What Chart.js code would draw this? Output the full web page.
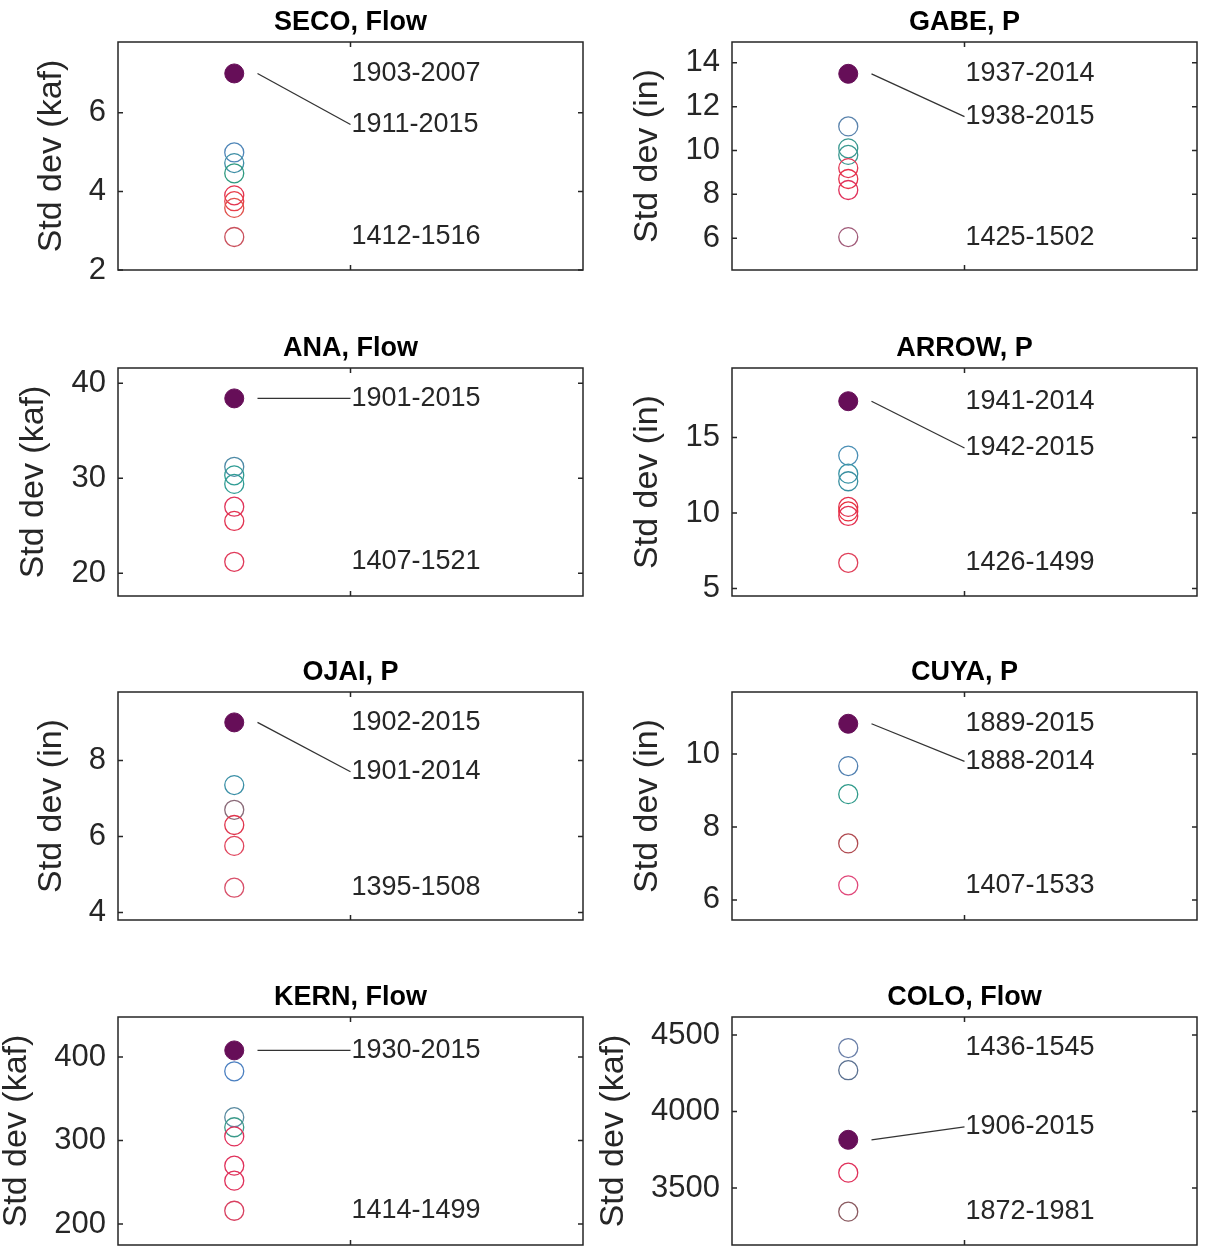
<!DOCTYPE html>
<html lang="en">
<head>
  <meta charset="UTF-8">
  <title>Std dev by window</title>
  <script src="https://cdn.jsdelivr.net/npm/chart.js"></script>
  <style>
    body {
      margin: 0;
      width: 1216px;
      height: 1246px;
      overflow: hidden;
      position: relative;
      background: #fff;
      font-family: "Liberation Sans", Arial, sans-serif;
    }
    canvas { position: absolute; }
  </style>
</head>
<body>

<script>
  // one entry per subplot, row by row (left, right)
  const panelTitles = ['SECO, Flow', 'GABE, P', 'ANA, Flow', 'ARROW, P',
                       'OJAI, P', 'CUYA, P', 'KERN, Flow', 'COLO, Flow'];
  const yTitles = ['Std dev (kaf)', 'Std dev (in)', 'Std dev (kaf)', 'Std dev (in)',
                   'Std dev (in)', 'Std dev (in)', 'Std dev (kaf)', 'Std dev (kaf)'];
  const yLimits = [[2, 7.8], [4.55, 14.95], [17.6, 41.6], [4.5, 19.6],
                   [3.8, 9.8], [5.45, 11.7], [175, 448], [3127, 4618]];
  const yTicks = [[2, 4, 6], [6, 8, 10, 12, 14], [20, 30, 40], [5, 10, 15],
                  [4, 6, 8], [6, 8, 10], [200, 300, 400], [3500, 4000, 4500]];

  // std dev of the recent instrumental window (filled marker)
  const recentStd = [7.0, 13.5, 38.4, 17.4, 9.0, 10.83, 408, 3815];

  // std dev of the other windows (open markers)
  const windowStd = [
    [4.99, 4.72, 4.46, 3.9, 3.75, 3.58, 2.84],
    [11.1, 10.1, 9.8, 9.2, 8.7, 8.2, 6.05],
    [31.2, 30.3, 29.4, 27.0, 25.5, 21.2],
    [13.8, 12.6, 12.1, 10.4, 10.1, 9.8, 6.7],
    [7.35, 6.7, 6.3, 5.75, 4.65],
    [9.67, 8.9, 7.55, 6.4],
    [383, 328, 316, 305, 270, 252, 216],
    [4415, 4270, 3600, 3345]
  ];

  // window year labels: [text, std dev] — upper, linked to filled marker, lower
  const upperLabels = [['1903-2007', 7.0], ['1937-2014', 13.5], null, ['1941-2014', 17.4],
                       ['1902-2015', 9.0], ['1889-2015', 10.83], null, ['1436-1545', 4415]];
  const linkLabels = [['1911-2015', 5.7], ['1938-2015', 11.55], ['1901-2015', 38.4], ['1942-2015', 14.3],
                      ['1901-2014', 7.7], ['1888-2014', 9.8], ['1930-2015', 408], ['1906-2015', 3900]];
  const lowerLabels = [['1412-1516', 2.84], ['1425-1502', 6.05], ['1407-1521', 21.2], ['1426-1499', 6.7],
                       ['1395-1508', 4.65], ['1407-1533', 6.4], ['1414-1499', 216], ['1872-1981', 3345]];

  // marker edge colours for the open circles
  const windowColors = [
    ['#4f86b8', '#3f8fa6', '#2f9a80', '#e3334f', '#e8404a', '#e0504a', '#c9505c'],
    ['#5b84ad', '#3a9890', '#3a9890', '#e33552', '#e6304a', '#e0305a', '#a05a78'],
    ['#4d8aa6', '#2f9c94', '#2f9c94', '#e0345a', '#e23250', '#e03a5a'],
    ['#4a8fb5', '#3a94a6', '#3a8fa0', '#e2304c', '#e8303e', '#e43050', '#e0405a'],
    ['#3a8fa6', '#8a6a78', '#e0344c', '#e0445c', '#d8506a'],
    ['#4f7fb0', '#2f9a8a', '#b04a50', '#e0487a'],
    ['#4a7fc0', '#5a8aa0', '#3a9a8a', '#e0305a', '#e0305a', '#e0305a', '#d84060'],
    ['#6a7fa8', '#5a7090', '#e0305a', '#8a5a60']
  ];
  const filledColor = '#660e58';
  const axisColor = '#262626';
  const fontFamily = '"Liberation Sans", Arial, sans-serif';

  const markerX = 0.5;   // x of the marker column
  const textX = 1.0;     // x where year labels start
  const lineStartX = 0.6;

  // draws the closed box with inward ticks, plus the year labels
  const boxAndNotes = {
    id: 'boxAndNotes',
    afterDatasetsDraw(chart, args, opts) {
      const { ctx, chartArea: a } = chart;
      const xs = chart.scales.x, ys = chart.scales.y;
      ctx.save();
      ctx.strokeStyle = axisColor;
      ctx.lineWidth = 1.5;
      ctx.strokeRect(a.left, a.top, a.right - a.left, a.bottom - a.top);

      const tl = 5;
      ctx.beginPath();
      ys.ticks.forEach(t => {
        const py = ys.getPixelForValue(t.value);
        ctx.moveTo(a.left, py); ctx.lineTo(a.left + tl, py);
        ctx.moveTo(a.right, py); ctx.lineTo(a.right - tl, py);
      });
      const px = xs.getPixelForValue(1);
      ctx.moveTo(px, a.top); ctx.lineTo(px, a.top + tl);
      ctx.moveTo(px, a.bottom); ctx.lineTo(px, a.bottom - tl);
      ctx.stroke();

      // leader line from the filled marker to its label
      const tx = xs.getPixelForValue(textX);
      ctx.lineWidth = 1.3;
      ctx.strokeStyle = '#333';
      ctx.beginPath();
      ctx.moveTo(xs.getPixelForValue(lineStartX), ys.getPixelForValue(opts.recent));
      ctx.lineTo(tx, ys.getPixelForValue(opts.link[1]));
      ctx.stroke();

      ctx.font = '27px ' + fontFamily;
      ctx.fillStyle = axisColor;
      ctx.textAlign = 'left';
      ctx.textBaseline = 'middle';
      [opts.upper, opts.link, opts.lower].forEach(n => {
        if (n) ctx.fillText(n[0], tx + 1, ys.getPixelForValue(n[1]));
      });
      ctx.restore();
    }
  };

  // canvas placement and the target plot box (page coordinates)
  const columns = [
    { canvasLeft: -60, width: 668, boxLeft: 118, boxRight: 583 },
    { canvasLeft: 560, width: 656, boxLeft: 732, boxRight: 1197 }
  ];
  const rowBoxTop = [42, 368, 692, 1017];
  const boxHeight = 228;
  const canvasHeight = 325;

  // nudge the layout padding until the plot area sits on the given box
  function alignPlotArea(chart, box) {
    const pad = chart.options.layout.padding;
    pad.right = chart.width - box.right;
    pad.bottom = chart.height - box.bottom;
    for (let k = 0; k < 2; k++) {
      const a = chart.chartArea;
      pad.left += box.left - a.left;
      pad.top += box.top - a.top;
      chart.update('none');
    }
  }

  panelTitles.forEach((title, i) => {
    const col = columns[i % 2];
    const top = rowBoxTop[Math.floor(i / 2)];
    const canvasTop = top - 42;

    const canvas = document.createElement('canvas');
    canvas.width = col.width;
    canvas.height = canvasHeight;
    canvas.style.left = col.canvasLeft + 'px';
    canvas.style.top = canvasTop + 'px';
    document.body.appendChild(canvas);

    const chart = new Chart(canvas, {
      type: 'scatter',
      data: {
        datasets: [
          {
            data: [{ x: markerX, y: recentStd[i] }],
            pointRadius: 9.5,
            pointBackgroundColor: filledColor,
            pointBorderColor: filledColor,
            pointBorderWidth: 1
          },
          {
            data: windowStd[i].map(v => ({ x: markerX, y: v })),
            pointRadius: 9.5,
            pointBackgroundColor: 'rgba(0,0,0,0)',
            pointBorderColor: windowColors[i],
            pointBorderWidth: 1.3
          }
        ]
      },
      options: {
        responsive: false,
        animation: false,
        devicePixelRatio: 1,
        layout: { autoPadding: false, padding: { left: 0, top: 0, right: 0, bottom: 0 } },
        plugins: {
          legend: { display: false },
          tooltip: { enabled: false },
          title: {
            display: true,
            text: title,
            fullSize: false,
            color: '#000',
            font: { family: fontFamily, size: 27, weight: 'bold' },
            padding: { top: 0, bottom: 3 }
          },
          boxAndNotes: {
            recent: recentStd[i],
            upper: upperLabels[i],
            link: linkLabels[i],
            lower: lowerLabels[i]
          }
        },
        scales: {
          x: { type: 'linear', min: 0, max: 2, display: false },
          y: {
            min: yLimits[i][0],
            max: yLimits[i][1],
            afterBuildTicks: s => { s.ticks = yTicks[i].map(v => ({ value: v })); },
            grid: { display: false, drawTicks: false },
            border: { display: false },
            ticks: {
              color: axisColor,
              padding: 12,
              font: { family: fontFamily, size: 31 },
              callback: v => String(v)
            },
            title: {
              display: true,
              text: yTitles[i],
              color: axisColor,
              font: { family: fontFamily, size: 34 },
              padding: { top: 0, bottom: 5 }
            }
          }
        }
      },
      plugins: [boxAndNotes]
    });

    alignPlotArea(chart, {
      left: col.boxLeft - col.canvasLeft,
      right: col.boxRight - col.canvasLeft,
      top: top - canvasTop,
      bottom: top - canvasTop + boxHeight
    });
  });
</script>

</body>
</html>
